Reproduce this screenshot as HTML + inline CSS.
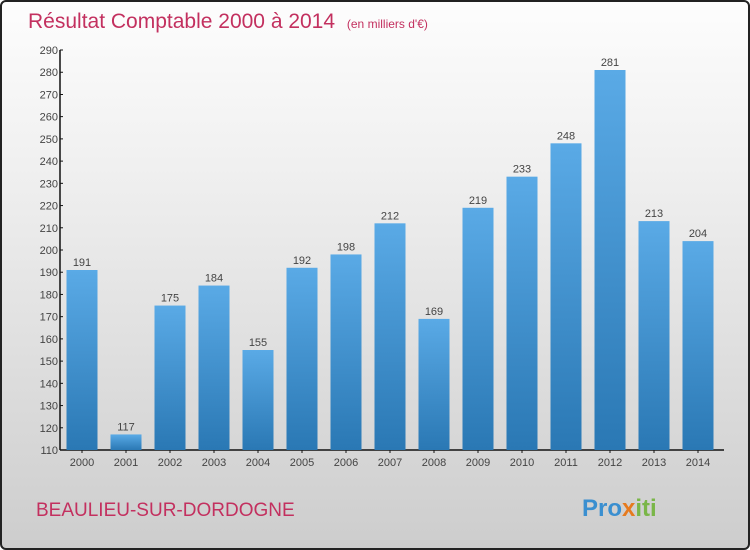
<!DOCTYPE html>
<html><head><meta charset="utf-8"><style>
body{margin:0;}
#wrap{position:relative;width:746px;height:546px;border:2px solid #222;border-radius:6px;background:linear-gradient(#fdfdfd,#f0f0f0 30%,#dcdcdc 70%,#cdcdcd);overflow:hidden;font-family:"Liberation Sans",sans-serif;}
svg text{font-family:"Liberation Sans",sans-serif;}
</style></head><body>
<div id="wrap">
<svg width="746" height="546">
<defs><linearGradient id="bg" x1="0" y1="0" x2="0" y2="1"><stop offset="0" stop-color="#5aaae6"/><stop offset="1" stop-color="#2a78b4"/></linearGradient></defs>
<text x="26" y="26" font-size="21" fill="#c3305f">Résultat Comptable 2000 à 2014 <tspan font-size="12" dx="6">(en milliers d'€)</tspan></text>
<g id="axes"></g><g id="bars"></g>
<text x="34" y="514" font-size="19" fill="#c3305f">BEAULIEU-SUR-DORDOGNE</text>
<text x="580" y="514" font-size="24" font-weight="bold" fill="#3a8fd0">Pro<tspan fill="#e67a1e">x</tspan><tspan fill="#7ab648">iti</tspan></text>
</svg></div>
<script>
const years=["2000","2001","2002","2003","2004","2005","2006","2007","2008","2009","2010","2011","2012","2013","2014"];
const values=[191,117,175,184,155,192,198,212,169,219,233,248,281,213,204];
const ticks=[110,120,130,140,150,160,170,180,190,200,210,220,230,240,250,260,270,280,290];
const NS="http://www.w3.org/2000/svg";
const y0=448,y1=48,vmin=110,vmax=290,axisX=58,step=44,firstX=80,bw=31;
const y=v=>y0-(v-vmin)/(vmax-vmin)*(y0-y1);
const x=i=>firstX+i*step;
function mk(t,a,p){const e=document.createElementNS(NS,t);for(const k in a)e.setAttribute(k,a[k]);p.appendChild(e);return e;}
const ax=document.getElementById('axes'),bs=document.getElementById('bars');
const yl=mk('line',{x1:axisX,y1:y1,x2:axisX,y2:y0,stroke:'#111','stroke-width':1.5},ax);


const xl=mk('line',{x1:axisX,y1:y0,x2:722,y2:y0,stroke:'#111','stroke-width':1.5},ax);


ticks.forEach(t=>{
 mk('line',{x1:axisX,x2:axisX+3,y1:y(t),y2:y(t),stroke:'#111'},ax);
 const tx=mk('text',{x:axisX-2,y:y(t)+4,'font-size':11,fill:'#444','text-anchor':'end'},ax);
 tx.textContent=t;
 
 
});
years.forEach((yr,i)=>{
 mk('line',{x1:x(i),x2:x(i),y1:y0,y2:y0+3,stroke:'#111'},ax);
 const tl=mk('text',{x:x(i),y:y0+16,'font-size':11,fill:'#444','text-anchor':'middle'},ax);
 tl.textContent=yr;
 
 
 const r=mk('rect',{x:x(i)-bw/2,y:y(values[i]),width:bw,height:y0-y(values[i]),fill:'url(#bg)'},bs);
 
 
 const v=mk('text',{x:x(i),y:y(values[i])-4,'font-size':11,fill:'#444','text-anchor':'middle'},bs);
 v.textContent=values[i];
 
 
});
</script>
</body></html>
